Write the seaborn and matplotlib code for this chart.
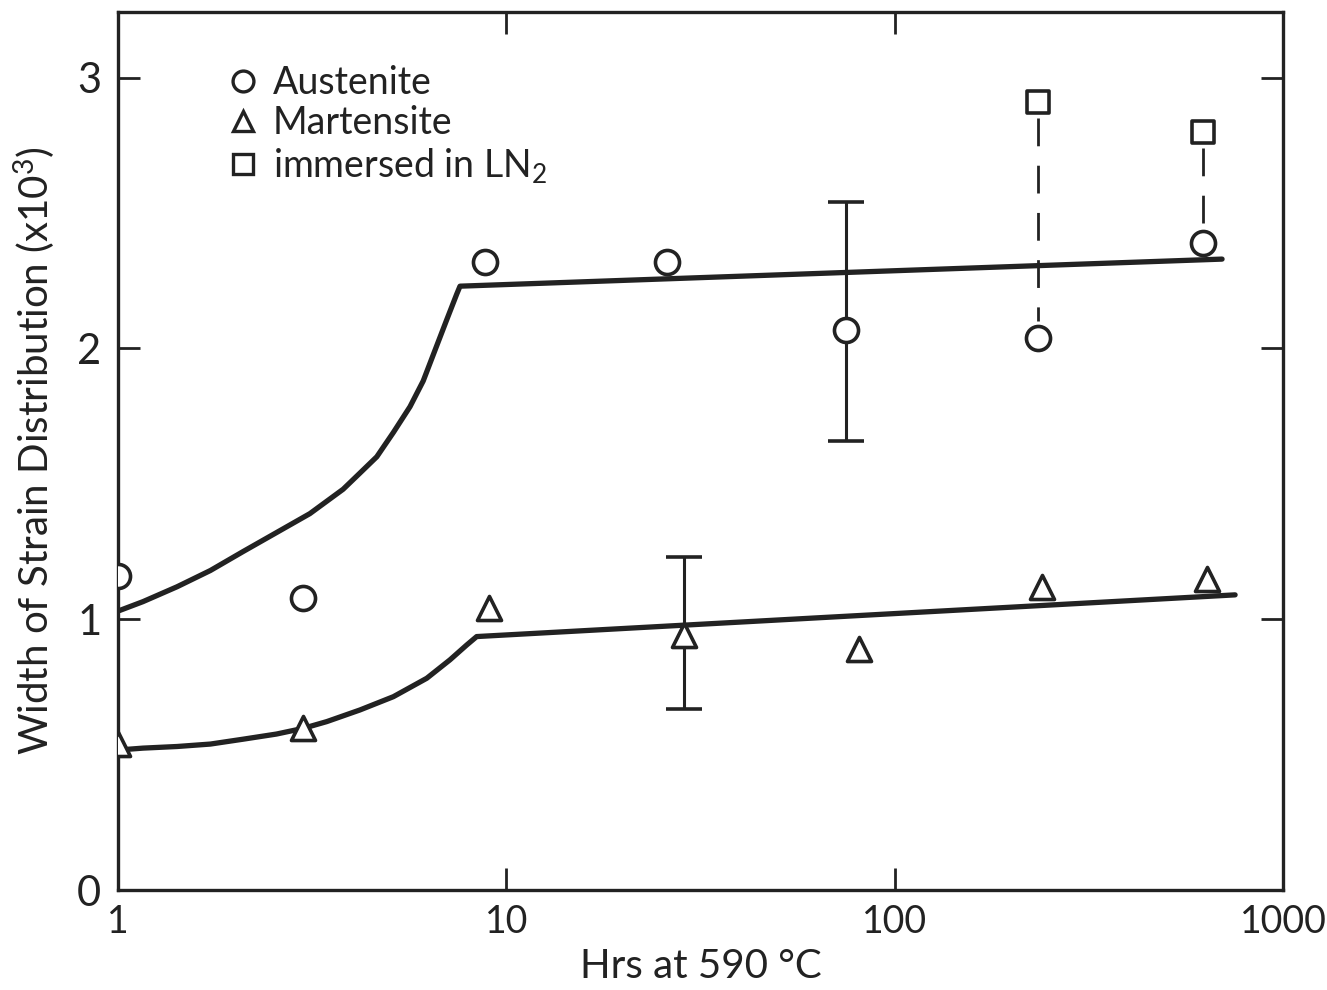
import numpy as np
import pandas as pd
import seaborn as sns
import matplotlib.pyplot as plt
from matplotlib.lines import Line2D

sns.set_style("ticks")
plt.rcParams['font.family'] = ['Lato', 'DejaVu Sans']
plt.rcParams['mathtext.fontset'] = 'custom'
plt.rcParams['mathtext.rm'] = 'Lato'
plt.rcParams['mathtext.it'] = 'Lato'

# Austenite measurements (hrs, width x10^3)
aus_hrs = [1.0, 3.0, 8.8, 26, 75, 234, 623]
aus_width = [1.16, 1.08, 2.32, 2.32, 2.07, 2.04, 2.39]

# Martensite measurements
mar_hrs = [1.0, 3.0, 9.0, 28.7, 81, 240, 638]
mar_width = [0.54, 0.60, 1.04, 0.94, 0.89, 1.12, 1.15]

# immersed in LN2
ln2_hrs = [234, 623]
ln2_width = [2.91, 2.80]

# error bars (x, low, high)
aus_err = (75, 1.66, 2.54)
mar_err = (28.7, 0.67, 1.23)

# hand-drawn trend curves
aus_curve_hrs = [1.0, 1.16, 1.42, 1.73, 2.10, 2.56, 3.12, 3.80, 4.20, 4.64,
                 5.12, 5.65, 6.11, 6.62, 7.02, 7.45, 7.60, 697]
aus_curve_w = [1.03, 1.065, 1.12, 1.18, 1.25, 1.32, 1.39, 1.48, 1.54, 1.60,
               1.69, 1.785, 1.88, 2.01, 2.105, 2.20, 2.23, 2.33]
mar_curve_hrs = [1.0, 1.16, 1.42, 1.73, 2.10, 2.56, 3.00, 3.45, 4.20, 5.12,
                 6.24, 7.16, 7.91, 8.39, 753]
mar_curve_w = [0.517, 0.524, 0.530, 0.539, 0.557, 0.576, 0.597, 0.622, 0.665,
               0.714, 0.782, 0.850, 0.905, 0.936, 1.09]

ink = '#222222'

fig = plt.figure(figsize=(13.27, 9.9), dpi=100)
ax = fig.add_axes([0.0889, 0.101, 0.8779, 0.887])
ax.set_xscale('log')

# trend curves
sns.lineplot(x=aus_curve_hrs, y=aus_curve_w, ax=ax, sort=False, estimator=None,
             color=ink, lw=3.8)
sns.lineplot(x=mar_curve_hrs, y=mar_curve_w, ax=ax, sort=False, estimator=None,
             color=ink, lw=3.8)

# error bars
for xe, lo, hi in [aus_err, mar_err]:
    ax.errorbar([xe], [(lo + hi) / 2], yerr=[[(hi - lo) / 2], [(hi - lo) / 2]],
                fmt='none', ecolor=ink, elinewidth=2.2, capsize=13, capthick=2.6)

# dashed connectors between LN2 squares and austenite circles
for xs, top, bot in zip(ln2_hrs, ln2_width, [aus_width[5], aus_width[6]]):
    ax.plot([xs, xs], [top - 0.06, bot + 0.06], color=ink, lw=2.0,
            dashes=(10, 7))

# markers
sns.scatterplot(x=aus_hrs, y=aus_width, ax=ax, marker='o', s=300,
                facecolor='white', edgecolor=ink, linewidth=2.6, zorder=5)
sns.scatterplot(x=mar_hrs, y=mar_width, ax=ax, marker='^', s=300,
                facecolor='white', edgecolor=ink, linewidth=2.6, zorder=5)
sns.scatterplot(x=ln2_hrs, y=ln2_width, ax=ax, marker='s', s=260,
                facecolor='white', edgecolor=ink, linewidth=2.6, zorder=5)

ax.set_xlim(1, 1000)
ax.set_ylim(0, 3.243)
ax.set_xticks([1, 10, 100, 1000])
ax.set_xticklabels(['1', '10', '100', '1000'])
ax.xaxis.set_minor_locator(plt.NullLocator())
ax.set_yticks([0, 1, 2, 3])
ax.set_yticklabels(['0', '1', '2', '3'])

ax.tick_params(axis='both', which='major', direction='in', length=16, width=2.0,
               colors=ink, labelsize=30, top=True, right=True)
ax.tick_params(axis='x', pad=10, labelsize=27)
ax.tick_params(axis='y', pad=12)
for sp in ax.spines.values():
    sp.set_linewidth(2.4)
    sp.set_color(ink)

ax.set_xlabel('Hrs at 590 °C', fontsize=29, color=ink, labelpad=6)
ax.set_ylabel('Width of Strain Distribution (x10$^3$)', fontsize=29, color=ink,
              labelpad=14)

handles = [
    Line2D([], [], marker='o', ls='none', mfc='white', mec=ink, mew=2.4, ms=15),
    Line2D([], [], marker='^', ls='none', mfc='white', mec=ink, mew=2.4, ms=15),
    Line2D([], [], marker='s', ls='none', mfc='white', mec=ink, mew=2.4, ms=14),
]
ax.legend(handles, ['Austenite', 'Martensite', 'immersed in LN$_2$'],
          loc='upper left', bbox_to_anchor=(0.062, 0.978), frameon=False,
          fontsize=27, handletextpad=0.3, labelspacing=0.12, handlelength=1.0,
          labelcolor=ink)

fig.savefig('out.png', dpi=100, facecolor='white')
